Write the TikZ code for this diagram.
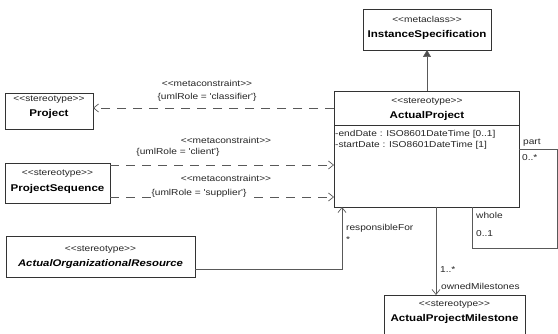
\documentclass[tikz,border=0pt]{standalone}
\usepackage{fontspec}
\usetikzlibrary{arrows.meta}
\newfontfamily\umlfont[FakeStretch=1.18]{Liberation Sans}
\begin{document}
\begin{tikzpicture}[x=1pt,y=-1pt,
  umlbox/.style={draw=black!80,line width=0.8pt,fill=white,inner sep=0pt},
  lbl/.style={font=\umlfont\fontsize{8.6}{10}\selectfont,text=black!85,inner sep=0pt},
  clsname/.style={font=\umlfont\fontsize{9.8}{11}\selectfont\bfseries,inner sep=0pt},
  iclsname/.style={font=\umlfont\fontsize{9.6}{11}\selectfont\bfseries\itshape,inner sep=0pt},
  conn/.style={draw=black!65,line width=0.7pt},
  dep/.style={conn,dash pattern=on 9pt off 7pt,-{Straight Barb[length=5pt,width=8pt]}},
  openarr/.style={conn,-{Straight Barb[length=5pt,width=8pt]}},
  gen/.style={conn,-{Triangle[length=7pt,width=8pt,fill=black!70]}}
]
\useasboundingbox[fill=white] (0,0) rectangle (558,334);

% boxes
\draw[umlbox] (363,9) rectangle (491,50);
\coordinate (isb) at (427,50);
\node[lbl] (isst) at (427,19) {<<metaclass>>};
\node[clsname] (isn) at (427,35) {InstanceSpecification};

\draw[umlbox] (334,91) rectangle (519,207);
\draw[draw=black!80,line width=0.8pt] (334,125) -- (519,125);
\coordinate (apt) at (427,91);
\node[lbl] (apst) at (427,102) {<<stereotype>>};
\node[clsname] (apn) at (427,116) {ActualProject};
\node[lbl,anchor=west] (apa1) at (335,134) {-endDate : ISO8601DateTime [0..1]};
\node[lbl,anchor=west] (apa2) at (335,145) {-startDate : ISO8601DateTime [1]};

\draw[umlbox] (5,93) rectangle (93,129);
\node[lbl] (prst) at (49,100) {<<stereotype>>};
\node[clsname] (prn) at (49,114) {Project};

\draw[umlbox] (5,163) rectangle (110,203);
\node[lbl] (psst) at (57.5,174) {<<stereotype>>};
\node[clsname] (psn) at (57.5,189) {ProjectSequence};

\draw[umlbox] (6,236) rectangle (195,277);
\node[lbl] (aorst) at (100.5,250) {<<stereotype>>};
\node[iclsname] (aorn) at (100.5,264) {ActualOrganizationalResource};

\draw[umlbox] (384,295) rectangle (525,345);
\node[lbl] (msst) at (454.5,305) {<<stereotype>>};
\node[clsname] (msn) at (454.5,319) {ActualProjectMilestone};

% coordinates of connector ends
\coordinate (apL1) at (334,108);
\coordinate (prR) at (93,108);
\coordinate (psR1) at (110,165);
\coordinate (apL2) at (334,165);
\coordinate (psR2) at (110,197);
\coordinate (apL3) at (334,197);
\coordinate (aorR) at (195,269);
\coordinate (bend1) at (342,269);
\coordinate (apB1) at (342,207);
\coordinate (apB2) at (436,207);
\coordinate (msT) at (436,295);
\coordinate (apR) at (519,149);
\coordinate (s1) at (557,149);
\coordinate (s2) at (557,248);
\coordinate (s3) at (472,248);
\coordinate (apB3) at (472,207);

% connectors
\draw[gen] (apt) -- (isb);
\draw[dep] (apL1) -- (prR);
\draw[dep] (psR1) -- (apL2);
\draw[dep] (psR2) -- (apL3);
\draw[openarr] (aorR) -- (bend1) -- (apB1);
\draw[openarr] (apB2) -- (msT);
\draw[conn] (apR) -- (s1) -- (s2) -- (s3) -- (apB3);

% labels
\node[lbl] (mc1) at (207,83) {<<metaconstraint>>};
\node[lbl] (ur1) at (207,97) {\{umlRole = 'classifier'\}};
\node[lbl] (mc2) at (226,140) {<<metaconstraint>>};
\node[lbl] (ur2) at (178,152) {\{umlRole = 'client'\}};
\node[lbl] (mc3) at (226,178) {<<metaconstraint>>};
\node[lbl,fill=white,inner xsep=1pt,inner ysep=1.5pt] (ur3) at (199,193) {\{umlRole = 'supplier'\}};
\node[lbl,anchor=west] (rf) at (346,228) {responsibleFor};
\node[lbl,anchor=west] (rfm) at (346,240) {*};
\node[lbl,anchor=west] (omm) at (440,270) {1..*};
\node[lbl,anchor=west] (om) at (441,286) {ownedMilestones};
\node[lbl,anchor=west] (pt) at (523,143) {part};
\node[lbl,anchor=west] (ptm) at (522,158) {0..*};
\node[lbl,anchor=west] (wh) at (476,215) {whole};
\node[lbl,anchor=west] (whm) at (476,234) {0..1};
\end{tikzpicture}
\end{document}
